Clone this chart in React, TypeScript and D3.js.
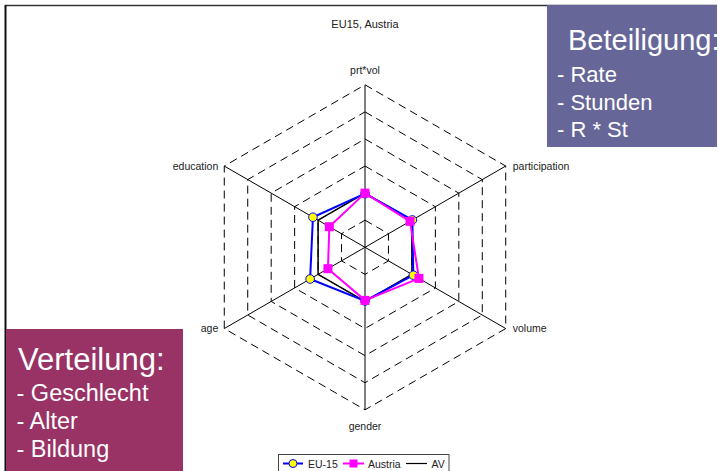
import React from "react";
import * as d3 from "d3";

const axes = ["prt*vol", "participation", "volume", "gender", "age", "education"];
const eu15 = [0.99, 1.01, 1.03, 0.99, 1.17, 1.11];
const austria = [1.0, 0.96, 1.15, 0.98, 0.79, 0.76];
const av = [1, 1, 1, 1, 1, 1];
const ringTicks = [0.5, 1, 1.5, 2, 2.5, 3];
const legendItems = ["EU-15", "Austria", "AV"];
const title = "EU15, Austria";
const rightBoxLines = ["Beteiligung:", "- Rate", "- Stunden", "- R * St"];
const leftBoxLines = ["Verteilung:", "- Geschlecht", "- Alter", "- Bildung"];

const W = 719;
const H = 471;
const cx = 365;
const cy = 247.3;
const R = 162.5;
const FONT = "Arial, 'Liberation Sans', sans-serif";

export default function App() {
  const r = d3.scaleLinear().domain([0, 3]).range([0, R]);
  const ang = (i: number) => -Math.PI / 2 + (i * 2 * Math.PI) / axes.length;
  const pt = (i: number, v: number): [number, number] => [
    cx + r(v) * Math.cos(ang(i)),
    cy + r(v) * Math.sin(ang(i)),
  ];
  const closed = d3.line().curve(d3.curveLinearClosed);
  const seriesPath = (vals: number[]) => closed(vals.map((v, i) => pt(i, v))) || "";

  const labelPos = (i: number) => {
    const [x, y] = pt(i, 3);
    const c = Math.cos(ang(i));
    if (Math.abs(c) < 0.01) {
      return { x, y: y < cy ? y - 11 : y + 20, anchor: "middle" };
    }
    return c > 0
      ? { x: x + 7, y: y + 3.5, anchor: "start" }
      : { x: x - 6, y: y + 3.5, anchor: "end" };
  };

  return (
    <svg
      width={W}
      height={H}
      style={{ position: "absolute", left: 0, top: 0, background: "#fff" }}
      fontFamily={FONT}
    >
      <defs>
        <clipPath id="rbox">
          <rect x={547} y={5} width={170} height={142} />
        </clipPath>
      </defs>
      <rect x={0} y={0} width={W} height={H} fill="#fff" />
      {/* frame */}
      <line x1={5} y1={5.5} x2={717} y2={5.5} stroke="#333" strokeWidth={1.5} />
      <line x1={5.5} y1={5} x2={5.5} y2={H} stroke="#111" strokeWidth={2} />

      <text x={cx} y={28} textAnchor="middle" fontSize={11} fill="#222">
        {title}
      </text>

      {/* grid rings */}
      {ringTicks.map((t) => (
        <path
          key={t}
          d={seriesPath(axes.map(() => t))}
          fill="none"
          stroke="#000"
          strokeWidth={1}
          strokeDasharray="8,5"
        />
      ))}
      {/* spokes */}
      {axes.map((a, i) => {
        const [x, y] = pt(i, 3);
        return <line key={a} x1={cx} y1={cy} x2={x} y2={y} stroke="#000" strokeWidth={1} />;
      })}
      {/* axis labels */}
      {axes.map((a, i) => {
        const p = labelPos(i);
        return (
          <text key={a} x={p.x} y={p.y} textAnchor={p.anchor as any} fontSize={10.5} fill="#222">
            {a}
          </text>
        );
      })}

      {/* series */}
      <path d={seriesPath(av)} fill="none" stroke="#000" strokeWidth={1.5} />
      <path d={seriesPath(eu15)} fill="none" stroke="#0000ff" strokeWidth={2} />
      {eu15.map((v, i) => {
        const [x, y] = pt(i, v);
        return <circle key={i} cx={x} cy={y} r={4.3} fill="#ffff00" stroke="#0000ff" strokeWidth={1} />;
      })}
      <path d={seriesPath(austria)} fill="none" stroke="#ff00ff" strokeWidth={2} />
      {austria.map((v, i) => {
        const [x, y] = pt(i, v);
        return <rect key={i} x={x - 4.5} y={y - 4.5} width={9} height={9} fill="#ff00ff" />;
      })}

      {/* legend */}
      <rect x={278.5} y={454.5} width={170.5} height={20} fill="#fff" stroke="#444" strokeWidth={1} />
      <line x1={283} y1={463.5} x2={303} y2={463.5} stroke="#0000ff" strokeWidth={2} />
      <circle cx={293} cy={463.5} r={4} fill="#ffff00" stroke="#0000ff" strokeWidth={1} />
      <text x={308} y={467.5} fontSize={10.5} fill="#222">{legendItems[0]}</text>
      <line x1={343} y1={463.5} x2={364} y2={463.5} stroke="#ff00ff" strokeWidth={2} />
      <rect x={349.5} y={459.5} width={8} height={8} fill="#ff00ff" />
      <text x={368} y={467.5} fontSize={10.5} fill="#222">{legendItems[1]}</text>
      <line x1={406} y1={463.5} x2={427} y2={463.5} stroke="#000" strokeWidth={1.2} />
      <text x={431.5} y={467.5} fontSize={10.5} fill="#222">{legendItems[2]}</text>

      {/* right box */}
      <rect x={547} y={5} width={170} height={142} fill="#666699" />
      <g clipPath="url(#rbox)" fill="#fff">
        <text x={568} y={50} fontSize={29}>{rightBoxLines[0]}</text>
        {rightBoxLines.slice(1).map((s, k) => (
          <text key={s} x={557} y={82 + k * 27.5} fontSize={22}>{s}</text>
        ))}
      </g>

      {/* left box */}
      <rect x={6} y={329} width={177} height={H - 329} fill="#993366" />
      <g fill="#fff">
        <text x={18} y={370} fontSize={31}>{leftBoxLines[0]}</text>
        {leftBoxLines.slice(1).map((s, k) => (
          <text key={s} x={16.5} y={401 + k * 28} fontSize={23.5}>{s}</text>
        ))}
      </g>
    </svg>
  );
}
